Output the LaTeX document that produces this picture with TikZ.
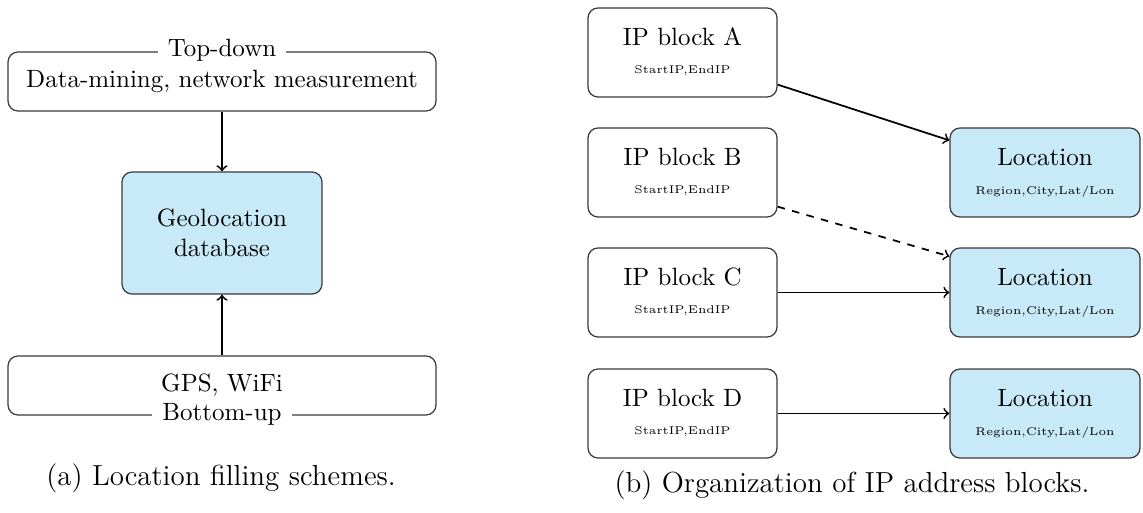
\documentclass[tikz,border=0pt]{standalone}
\usetikzlibrary{calc}
\definecolor{boxblue}{HTML}{C7E9F8}
\definecolor{boxline}{HTML}{3A3A3A}
\begin{document}
\begin{tikzpicture}[x=0.4pt,y=-0.4pt,
  box/.style={draw=boxline, line width=0.5pt, rounded corners=4pt, inner sep=0pt},
  bluebox/.style={box, fill=boxblue},
  wide/.style={minimum width=171.2pt, minimum height=23.6pt},
  ipbox/.style={box, minimum width=75.6pt, minimum height=35.6pt},
  locbox/.style={bluebox, minimum width=76pt, minimum height=35.6pt},
  conn/.style={->, line width=0.7pt},
  tag/.style={fill=white, inner xsep=4pt, inner ysep=2pt},
  small/.style={font=\fontsize{4.5}{5}\selectfont, inner sep=0pt},
  captext/.style={font=\fontsize{11.6}{14}\selectfont, inner sep=0pt}]
\useasboundingbox (0,0) rectangle (1143,512);
% (a)
\node[box, wide] (top) at (222,81.5) {Data-mining, network measurement};
\node[tag] (toplbl) at (222,50) {Top-down};
\node[bluebox, minimum width=80pt, minimum height=48.8pt, align=center] (geo) at (222,233) {Geolocation\\database};
\node[box, wide] (bot) at (222,385.5) {GPS, WiFi};
\node[tag] (botlbl) at (222,414) {Bottom-up};
\draw[conn] (top.south) -- (geo.north);
\draw[conn] (bot.north) -- (geo.south);
\node[captext] (capa) at (221,478) {(a) Location filling schemes.};
% (b)
\foreach \n/\y in {A/52.5,B/172.5,C/292.5,D/413.5}{
  \node[ipbox] (ip\n) at (682.5,\y) {};
  \node[inner sep=0pt] (ipt\n) at (682.5,\y-16) {IP block \n};
  \node[small] (ips\n) at (682.5,\y+18.5) {StartIP,EndIP};
}
\foreach \n/\y in {1/172.5,2/292.5,3/413.5}{
  \node[locbox] (loc\n) at (1045,\y) {};
  \node[inner sep=0pt] (loct\n) at (1045,\y-15) {Location};
  \node[small] (locs\n) at (1045,\y+19) {Region,City,Lat/Lon};
}
\draw[conn] ($(ipA.south east)+(0,-13)$) -- ($(loc1.north west)+(0,13)$);
\draw[conn, dashed] ($(ipB.south east)+(0,-11)$) -- ($(loc2.north west)+(0,9)$);
\draw[conn] (ipC.east) -- (loc2.west);
\draw[conn] (ipD.east) -- (loc3.west);
\node[captext] (capb) at (852,485) {(b) Organization of IP address blocks.};
\end{tikzpicture}
\end{document}
